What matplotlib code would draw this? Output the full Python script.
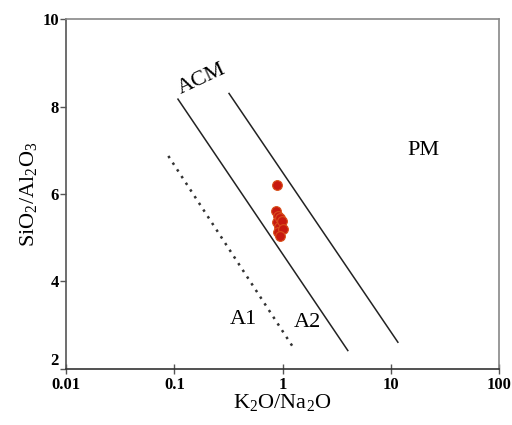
import matplotlib
matplotlib.use("Agg")
import matplotlib.pyplot as plt

plt.rcParams['font.family'] = ['Liberation Serif', 'DejaVu Serif']
plt.rcParams['mathtext.fontset'] = 'custom'
plt.rcParams['mathtext.rm'] = 'Liberation Serif'

# boundary lines (K2O/Na2O, SiO2/Al2O3)
acm_x = [0.108, 4.0]
acm_y = [8.17, 2.42]
pm_x = [0.32, 11.6]
pm_y = [8.30, 2.61]
a_x = [0.088, 1.30]
a_y = [6.87, 2.43]

# samples
k2o_na2o = [0.88, 0.86, 0.90, 0.88, 0.95, 0.92, 0.98, 0.90, 1.00, 0.94]
sio2_al2o3 = [6.21, 5.62, 5.50, 5.35, 5.45, 5.25, 5.38, 5.12, 5.20, 5.05]

fig = plt.figure(figsize=(5.12, 4.25), dpi=100)
ax = fig.add_axes([0.129, 0.132, 0.846, 0.823])

ax.plot(acm_x, acm_y, color='#222222', lw=1.1)
ax.plot(pm_x, pm_y, color='#222222', lw=1.1)
ax.plot(a_x, a_y, color='#333333', lw=1.8, ls=(0, (1, 2.2)))
ax.plot(k2o_na2o, sio2_al2o3, 'o', ms=7, color='#c8190f', mec='#d8501a', mew=0.8, ls='none')

ax.text(0.178, 8.62, 'ACM', fontsize=16, rotation=25, ha='center', va='center')
ax.text(20, 7.0, 'PM', fontsize=16, ha='center', va='center')
ax.text(0.43, 3.12, 'A1', fontsize=16, ha='center', va='center')
ax.text(1.7, 3.05, 'A2', fontsize=16, ha='center', va='center')

ax.set_xscale('log')
ax.set_xlim(0.01, 100)
ax.set_ylim(2, 10)
ax.set_xticks([0.01, 0.1, 1, 10, 100])
ax.set_xticklabels(['0.01', '0.1', '1', '10', '100'])
ax.set_yticks([2, 4, 6, 8, 10])
ax.minorticks_off()
ax.tick_params(labelsize=12, length=4, width=1, color='#555555', pad=1)
ax.tick_params(axis='x', direction='inout', length=7, pad=2)
for lab in ax.get_xticklabels() + ax.get_yticklabels():
    lab.set_fontweight('bold')
ax.get_yticklabels()[0].set_va('bottom')
for s in ax.spines.values():
    s.set_color('#888888')
    s.set_linewidth(1.2)
ax.spines['left'].set_color('#555555')
ax.spines['bottom'].set_color('#333333')

ax.set_xlabel(r'K$_\mathregular{2}$O/Na$_\mathregular{2}$O', fontsize=16, labelpad=0)
ax.set_ylabel(r'SiO$_\mathregular{2}$/Al$_\mathregular{2}$O$_\mathregular{3}$', fontsize=16, labelpad=2)

fig.savefig('out.png', dpi=100)
